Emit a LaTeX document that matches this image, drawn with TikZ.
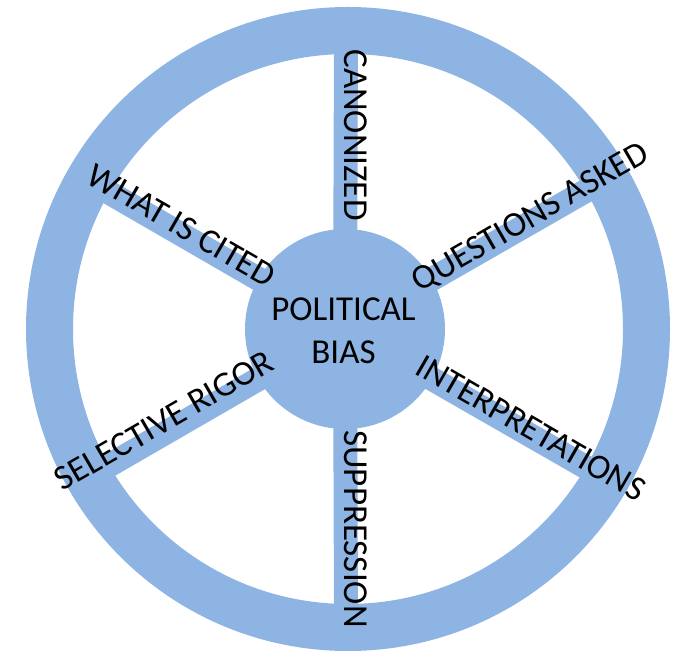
\documentclass[tikz,border=0pt]{standalone}
\usepackage{fontspec}
\setmainfont{Carlito}
\definecolor{wheelblue}{RGB}{142,180,227}
\begin{document}
\begin{tikzpicture}[x=0.75pt,y=-0.75pt,
  lbl/.style={inner sep=0pt,font=\fontsize{26.25}{32}\selectfont,text height=0.63em,text depth=0pt},
  spoke/.style={wheelblue,line width=18pt},
  rim/.style={wheelblue,line width=35.25pt}]
\useasboundingbox (0,0) rectangle (696,655);
\coordinate (c) at (348,329);
\coordinate (hc) at (345,329);
% spoke ends (on the rim)
\coordinate (eN) at (346,40);
\coordinate (eS) at (346,618);
\coordinate (eNE) at (603,181);
\coordinate (eSE) at (603,477);
\coordinate (eNW) at (89,181);
\coordinate (eSW) at (89,477);
\draw[spoke] (hc) -- (eN);
\draw[spoke] (hc) -- (eS);
\draw[spoke] (hc) -- (eNE);
\draw[spoke] (hc) -- (eSE);
\draw[spoke] (hc) -- (eNW);
\draw[spoke] (hc) -- (eSW);
\draw[rim] (c) circle[radius=298.5];
\node[circle,fill=wheelblue,minimum size=150pt,inner sep=0pt] (hub) at (hc) {};
\node[font=\fontsize{26.25}{32}\selectfont,align=center,inner sep=0pt] (title) at (343.5,331) {POLITICAL\\BIAS};
\node[lbl,rotate=-90] (canon) at (348.5,135) {CANONIZED};
\node[lbl,rotate=-90] (supp) at (349,529) {SUPPRESSION};
\node[lbl,rotate=30] (quest) at (533.5,222.5) {QUESTIONS ASKED};
\node[lbl,rotate=-30] (interp) at (527.5,434) {INTERPRETATIONS};
\node[lbl,rotate=-30] (cited) at (178,231.5) {WHAT IS CITED};
\node[lbl,rotate=30] (rigor) at (167.5,426.5) {SELECTIVE RIGOR};
\end{tikzpicture}
\end{document}
